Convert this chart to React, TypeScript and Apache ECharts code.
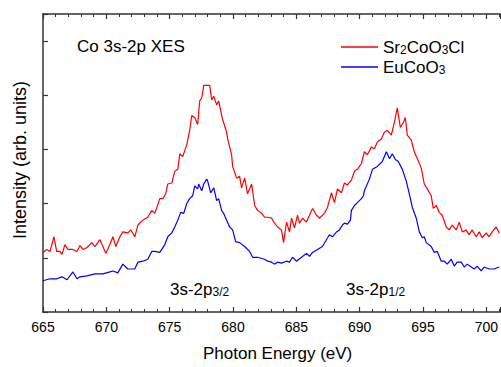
import React, { useEffect, useRef } from "react";
import * as echarts from "echarts";

const FONT = "'Liberation Sans', Arial, sans-serif";

// Photon energy (eV) and intensity (arb. units)
const redEnergy = [665.0, 665.3, 665.55, 665.87, 666.08, 666.34, 666.5, 666.73, 666.97, 667.36, 667.68, 667.92, 668.15, 668.47, 668.86, 669.1, 669.49, 669.73, 669.96, 670.28, 670.52, 670.75, 671.07, 671.3, 671.7, 671.93, 672.25, 672.49, 672.88, 673.27, 673.59, 673.83, 674.22, 674.46, 674.69, 674.85, 675.17, 675.4, 675.64, 675.8, 676.03, 676.35, 676.58, 676.74, 676.98, 677.21, 677.37, 677.53, 677.69, 678.0, 678.16, 678.32, 678.48, 678.71, 678.87, 679.03, 679.18, 679.5, 679.58, 679.89, 679.97, 680.29, 680.52, 680.68, 680.92, 681.15, 681.47, 681.71, 681.94, 682.26, 682.49, 682.73, 683.05, 683.28, 683.52, 683.83, 683.99, 684.23, 684.46, 684.62, 684.86, 685.09, 685.25, 685.49, 685.8, 686.04, 686.28, 686.59, 686.83, 687.22, 687.46, 687.77, 688.01, 688.25, 688.56, 688.8, 689.03, 689.35, 689.59, 689.82, 690.14, 690.37, 690.61, 690.93, 691.16, 691.4, 691.71, 691.95, 692.19, 692.5, 692.74, 692.97, 693.21, 693.45, 693.61, 693.76, 694.08, 694.31, 694.55, 694.87, 695.1, 695.34, 695.65, 695.81, 696.05, 696.28, 696.52, 696.84, 697.07, 697.31, 697.62, 697.86, 698.1, 698.41, 698.65, 698.88, 699.2, 699.44, 699.67, 699.99, 700.22, 700.46, 700.78, 701.01];
const redIntensity = [61, 64, 62, 77, 62, 62, 59, 69, 64, 64, 62, 68, 64, 66, 71, 67, 74, 67, 60, 69, 77, 67, 77, 82, 81, 84, 77, 89, 94, 97, 104, 101, 116, 116, 121, 131, 132, 144, 146, 162, 159, 171, 186, 201, 199, 192, 216, 219, 232, 232, 232, 217, 221, 212, 216, 206, 197, 184, 177, 161, 149, 137, 139, 127, 137, 121, 131, 109, 104, 101, 97, 97, 96, 91, 87, 84, 71, 92, 82, 96, 86, 99, 91, 96, 92, 99, 106, 99, 96, 101, 107, 122, 112, 126, 122, 132, 130, 135, 144, 146, 152, 164, 161, 169, 167, 174, 177, 184, 186, 181, 194, 209, 189, 194, 199, 181, 176, 164, 157, 147, 131, 126, 119, 106, 109, 102, 99, 87, 84, 89, 84, 92, 82, 84, 79, 84, 77, 82, 76, 81, 77, 82, 87, 81];

const blueEnergy = [665.0, 665.55, 666.08, 666.5, 666.9, 667.36, 667.68, 667.92, 668.47, 669.1, 669.73, 670.28, 670.52, 670.91, 671.3, 671.7, 672.25, 672.49, 672.88, 673.27, 673.59, 673.83, 674.22, 674.62, 674.85, 675.17, 675.4, 675.64, 675.87, 676.11, 676.35, 676.58, 676.82, 676.98, 677.21, 677.29, 677.53, 677.69, 677.92, 678.0, 678.24, 678.48, 678.71, 678.87, 679.1, 679.26, 679.5, 679.73, 679.97, 680.21, 680.52, 680.92, 681.31, 681.55, 681.94, 682.49, 682.73, 683.05, 683.28, 683.52, 683.83, 684.23, 684.46, 684.7, 685.01, 685.41, 685.8, 686.04, 686.28, 686.67, 687.06, 687.38, 687.61, 687.85, 688.17, 688.4, 688.64, 688.8, 689.03, 689.27, 689.35, 689.59, 689.82, 690.14, 690.3, 690.37, 690.77, 691.01, 691.4, 691.79, 692.11, 692.35, 692.58, 692.82, 693.05, 693.37, 693.68, 693.92, 694.16, 694.47, 694.71, 694.95, 695.1, 695.26, 695.65, 695.89, 696.13, 696.44, 696.68, 696.92, 697.23, 697.47, 697.7, 698.02, 698.26, 698.49, 698.81, 699.04, 699.28, 699.59, 699.83, 700.22, 700.62, 701.01];
const blueIntensity = [32, 34, 34, 36, 33, 41, 34, 36, 37, 39, 39, 41, 42, 40, 49, 44, 44, 51, 52, 54, 62, 62, 61, 69, 77, 81, 87, 94, 102, 101, 111, 116, 119, 129, 126, 131, 124, 131, 136, 134, 122, 127, 114, 116, 104, 101, 94, 87, 84, 72, 71, 67, 62, 56, 56, 54, 52, 51, 49, 51, 50, 52, 51, 56, 52, 56, 60, 57, 61, 64, 67, 74, 79, 77, 82, 84, 89, 91, 90, 94, 104, 109, 112, 116, 119, 124, 136, 146, 149, 154, 164, 157, 162, 156, 154, 146, 134, 121, 107, 96, 82, 76, 77, 71, 67, 61, 62, 52, 52, 49, 54, 47, 51, 51, 46, 49, 46, 44, 47, 42, 46, 44, 44, 46];

const seriesNames = ["Sr2CoO3Cl", "EuCoO3"];
const seriesColors = ["#ff0000", "#0000ff"];
const xMin = 665;
const xMax = 701.1;
const xStep = 5;
const yMax = 305;
const yStep = 55.5;

function pairs(xs: number[], ys: number[]) {
  return xs.map((x, i) => [x, ys[i]]);
}

export default function App() {
  const ref = useRef<HTMLDivElement>(null);
  useEffect(() => {
    if (!ref.current) return;
    const chart = echarts.init(ref.current, null, { renderer: "svg" });
    const axisLine = { show: true, lineStyle: { color: "#333", width: 1.5 } };
    const xCommon = {
      type: "value" as const,
      min: xMin,
      max: xMax,
      interval: xStep,
      axisLine,
      axisTick: { show: true, inside: true, length: 5, lineStyle: { color: "#333", width: 1.2 } },
      minorTick: { show: true, splitNumber: 5, length: 3, lineStyle: { color: "#333", width: 1 } },
      splitLine: { show: false },
    };
    const rich = {
      n: { fontSize: 17, fontFamily: FONT, color: "#000", verticalAlign: "bottom", lineHeight: 18 },
      s: { fontSize: 12, fontFamily: FONT, color: "#000", verticalAlign: "bottom", lineHeight: 18 },
    };
    chart.setOption({
      animation: false,
      backgroundColor: "#ffffff",
      textStyle: { fontFamily: FONT },
      grid: { left: 43, top: 14, bottom: 48, right: 0, containLabel: false },
      legend: {
        orient: "vertical",
        left: 336,
        top: 34,
        icon: "rect",
        itemWidth: 37,
        itemHeight: 1.5,
        itemGap: 3,
        data: seriesNames,
        textStyle: { fontFamily: FONT, color: "#000", rich },
        formatter: (name: string) =>
          name === "Sr2CoO3Cl" ? "{n|Sr}{s|2}{n|CoO}{s|3}{n|Cl}" : "{n|EuCoO}{s|3}",
      },
      xAxis: [
        {
          ...xCommon,
          position: "bottom",
          name: "Photon Energy (eV)",
          nameLocation: "middle",
          nameGap: 33,
          nameTextStyle: { fontSize: 17, color: "#000", fontFamily: FONT, padding: [0, 0, 0, 12] },
          axisLabel: {
            show: true,
            fontSize: 14,
            color: "#000",
            fontFamily: FONT,
            margin: 8,
            showMaxLabel: false,
          },
        },
        {
          ...xCommon,
          position: "top",
          axisLabel: { show: false },
        },
      ],
      yAxis: {
        type: "value",
        min: 0,
        max: yMax,
        interval: yStep,
        name: "Intensity (arb. units)",
        nameLocation: "middle",
        nameGap: 14,
        nameTextStyle: { fontSize: 18, color: "#000", fontFamily: FONT, padding: [0, 0, 0, 6] },
        axisLine,
        axisTick: { show: true, inside: true, length: 5, lineStyle: { color: "#333", width: 1.2 } },
        axisLabel: { show: false },
        splitLine: { show: false },
      },
      graphic: [
        {
          type: "text",
          left: 77,
          top: 38,
          style: { text: "Co 3s-2p XES", fontSize: 17, fontFamily: FONT, fill: "#000" },
        },
        {
          type: "text",
          left: 170,
          top: 281,
          style: { text: "{n|3s-2p}{s|3/2}", fill: "#000", rich },
        },
        {
          type: "text",
          left: 346,
          top: 281,
          style: { text: "{n|3s-2p}{s|1/2}", fill: "#000", rich },
        },
      ],
      series: [
        {
          name: seriesNames[0],
          type: "line",
          data: pairs(redEnergy, redIntensity),
          symbol: "none",
          showSymbol: false,
          color: seriesColors[0],
          lineStyle: { color: seriesColors[0], width: 1.2 },
          clip: true,
        },
        {
          name: seriesNames[1],
          type: "line",
          data: pairs(blueEnergy, blueIntensity),
          symbol: "none",
          showSymbol: false,
          color: seriesColors[1],
          lineStyle: { color: seriesColors[1], width: 1.2 },
          clip: true,
        },
      ],
    });
    return () => chart.dispose();
  }, []);
  return (
    <div
      ref={ref}
      style={{ position: "absolute", left: 0, top: 0, width: 501, height: 367 }}
    />
  );
}
